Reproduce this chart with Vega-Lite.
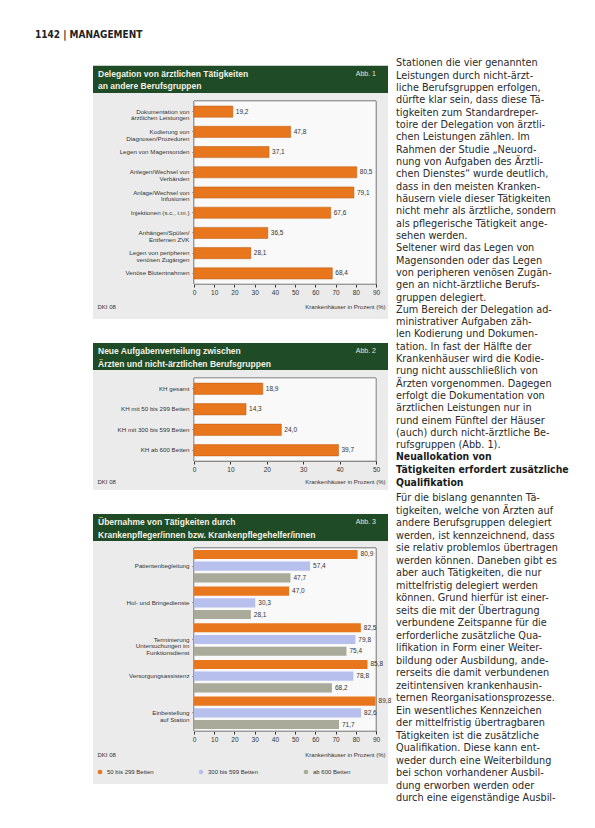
{
  "$schema": "https://vega.github.io/schema/vega-lite/v6.json",
  "background": "#ffffff",
  "padding": {"left": 35, "top": 30, "right": 0, "bottom": 0},
  "title": {"text": "1142 | MANAGEMENT", "anchor": "start", "frame": "bounds", "dx": -58, "offset": 17, "fontSize": 10, "fontWeight": "bold", "font": "DejaVu Sans Condensed", "color": "#222222"},
  "config": {
    "font": "Liberation Sans",
    "locale": {"number": {"decimal": ",", "thousands": ".", "grouping": [3], "currency": ["", " €"]}},
    "axis": {"labelFont": "Liberation Sans", "titleFont": "Liberation Sans", "labelColor": "#333333", "titleColor": "#333333", "grid": false},
    "legend": {"labelFont": "Liberation Sans"},
    "view": {"stroke": null}
  },
  "spacing": 4,
  "hconcat": [
    {
      "spacing": 24,
      "vconcat": [
        {
          "spacing": 0,
          "vconcat": [
            {
              "width": 295, "height": 35,
              "resolve": {"scale": {"x": "independent", "y": "independent"}},
              "layer": [
                {
                  "data": {"values": [{}]},
                  "mark": {"type": "rect", "color": "#1f4b27"},
                  "encoding": {
                    "x": {"datum": 0, "type": "quantitative", "scale": {"domain": [0, 1], "range": [0, 295]}, "axis": null},
                    "x2": {"datum": 1},
                    "y": {"datum": 0, "type": "quantitative", "scale": {"domain": [0, 1], "range": [7.65, 35]}, "axis": null},
                    "y2": {"datum": 1}
                  }
                },
                {
                  "layer": [
                    {
                      "data": {"values": [{"t": "Delegation von ärztlichen Tätigkeiten", "r": 1}, {"t": "an andere Berufsgruppen", "r": 2}]},
                      "mark": {"type": "text", "align": "left", "baseline": "middle", "fontSize": 8.5, "fontWeight": "bold", "color": "#f3f0e2"},
                      "encoding": {
                        "x": {"datum": 0, "type": "quantitative", "scale": {"domain": [0, 1], "range": [5, 283]}, "axis": null},
                        "y": {"field": "r", "type": "ordinal", "scale": {"type": "point", "padding": 0, "range": [15.65, 28.15]}, "axis": null},
                        "text": {"field": "t"}
                      }
                    },
                    {
                      "data": {"values": [{"t": "Abb. 1"}]},
                      "mark": {"type": "text", "align": "right", "baseline": "middle", "fontSize": 7, "color": "#e6e6d6"},
                      "encoding": {
                        "x": {"datum": 1, "type": "quantitative"},
                        "y": {"datum": 1, "type": "ordinal"},
                        "text": {"field": "t"}
                      }
                    }
                  ]
                }
              ]
            },
            {
              "width": 295, "height": 226,
              "view": {"fill": "#ebebeb", "stroke": null},
              "data": {"values": [
                {"k": "Dokumentation von|ärztlichen Leistungen", "v": 19.2},
                {"k": "Kodierung von|Diagnosen/Prozeduren", "v": 47.8},
                {"k": "Legen von Magensonden", "v": 37.1},
                {"k": "Anlegen/Wechsel von|Verbänden", "v": 80.5},
                {"k": "Anlage/Wechsel von|Infusionen", "v": 79.1},
                {"k": "Injektionen (s.c., i.m.)", "v": 67.6},
                {"k": "Anhängen/Spülen/|Entfernen ZVK", "v": 36.5},
                {"k": "Legen von peripheren|venösen Zugängen", "v": 28.1},
                {"k": "Venöse Blutentnahmen", "v": 68.4}
              ]},
              "resolve": {"scale": {"y": "independent"}},
              "layer": [
                {
                  "mark": {"type": "rect", "fill": "#f9f9f9", "stroke": "#9a9a9a", "strokeWidth": 0.8},
                  "encoding": {
                    "x": {"datum": 0, "type": "quantitative", "scale": {"domain": [0, 90], "range": [101, 283], "nice": false},
                      "axis": {"offset": -35, "values": [0, 10, 20, 30, 40, 50, 60, 70, 80, 90], "labelOverlap": false, "labelFlush": false, "labelBound": false, "title": "Krankenhäuser in Prozent (%)", "titleX": 292, "titleY": 22, "titleAlign": "right", "titleAnchor": null, "titleBaseline": "middle", "titleFontSize": 6, "titleFontWeight": "normal", "labelFontSize": 6.5, "labelPadding": 2, "tickSize": 3, "domainColor": "#222222", "tickColor": "#333333"}},
                    "x2": {"datum": 90},
                    "y": {"datum": 0, "type": "quantitative", "scale": {"domain": [0, 1], "range": [8, 191]}, "axis": null},
                    "y2": {"datum": 1}
                  }
                },
                {
                  "encoding": {
                    "x": {"field": "v", "type": "quantitative", "title": "Krankenhäuser in Prozent (%)",
                      "axis": {"offset": -35, "values": [0, 10, 20, 30, 40, 50, 60, 70, 80, 90], "labelOverlap": false, "labelFlush": false, "labelBound": false, "title": "Krankenhäuser in Prozent (%)", "titleX": 292, "titleY": 22, "titleAlign": "right", "titleAnchor": null, "titleBaseline": "middle", "titleFontSize": 6, "titleFontWeight": "normal", "labelFontSize": 6.5, "labelPadding": 2, "tickSize": 3, "domainColor": "#222222", "tickColor": "#333333"}},
                    "y": {"field": "k", "type": "nominal", "sort": null, "scale": {"range": [8, 191], "paddingInner": 0.45, "paddingOuter": 0.25},
                      "axis": {"offset": -101, "title": "DKI 08", "titleAngle": 0, "titleAlign": "left", "titleBaseline": "middle", "titleX": -97, "titleY": 213, "titleFontSize": 6, "titleFontWeight": "normal", "labelFontSize": 6.2, "labelExpr": "split(datum.label, '|')", "labelLineHeight": 6.8, "labelLimit": 96, "labelPadding": 3, "tickSize": 2, "domainColor": "#222222", "tickColor": "#555555"}}
                  },
                  "layer": [
                    {"mark": {"type": "bar", "color": "#e8761c", "stroke": "#b95a10", "strokeWidth": 0.5}},
                    {"mark": {"type": "text", "align": "left", "baseline": "middle", "dx": 3, "fontSize": 6.5, "color": "#333333"},
                     "encoding": {"text": {"field": "v", "type": "quantitative", "format": ".1f"}}}
                  ]
                }
              ]
            }
          ]
        },
        {
          "spacing": 0,
          "vconcat": [
            {
              "width": 295, "height": 27,
              "view": {"fill": "#1f4b27", "stroke": null},
              "layer": [
                {
                  "data": {"values": [{"t": "Neue Aufgabenverteilung zwischen", "r": 1}, {"t": "Ärzten und nicht-ärztlichen Berufsgruppen", "r": 2}]},
                  "mark": {"type": "text", "align": "left", "baseline": "middle", "fontSize": 8.5, "fontWeight": "bold", "color": "#f3f0e2"},
                  "encoding": {
                    "x": {"datum": 0, "type": "quantitative", "scale": {"domain": [0, 1], "range": [5, 283]}, "axis": null},
                    "y": {"field": "r", "type": "ordinal", "scale": {"type": "point", "padding": 0, "range": [8, 20.5]}, "axis": null},
                    "text": {"field": "t"}
                  }
                },
                {
                  "data": {"values": [{"t": "Abb. 2"}]},
                  "mark": {"type": "text", "align": "right", "baseline": "middle", "fontSize": 7, "color": "#e6e6d6"},
                  "encoding": {
                    "x": {"datum": 1, "type": "quantitative"},
                    "y": {"datum": 1, "type": "ordinal"},
                    "text": {"field": "t"}
                  }
                }
              ]
            },
            {
              "width": 295, "height": 120,
              "view": {"fill": "#ebebeb", "stroke": null},
              "data": {"values": [
                {"k": "KH gesamt", "v": 18.9},
                {"k": "KH mit 50 bis 299 Betten", "v": 14.3},
                {"k": "KH mit 300 bis 599 Betten", "v": 24.0},
                {"k": "KH ab 600 Betten", "v": 39.7}
              ]},
              "resolve": {"scale": {"y": "independent"}},
              "layer": [
                {
                  "mark": {"type": "rect", "fill": "#f9f9f9", "stroke": "#9a9a9a", "strokeWidth": 0.8},
                  "encoding": {
                    "x": {"datum": 0, "type": "quantitative", "scale": {"domain": [0, 50], "range": [101, 283], "nice": false},
                      "axis": {"offset": -29, "values": [0, 10, 20, 30, 40, 50], "labelOverlap": false, "labelFlush": false, "labelBound": false, "title": "Krankenhäuser in Prozent (%)", "titleX": 292, "titleY": 20, "titleAlign": "right", "titleAnchor": null, "titleBaseline": "middle", "titleFontSize": 6, "titleFontWeight": "normal", "labelFontSize": 6.5, "labelPadding": 2, "tickSize": 3, "domainColor": "#222222", "tickColor": "#333333"}},
                    "x2": {"datum": 50},
                    "y": {"datum": 0, "type": "quantitative", "scale": {"domain": [0, 1], "range": [8, 91]}, "axis": null},
                    "y2": {"datum": 1}
                  }
                },
                {
                  "encoding": {
                    "x": {"field": "v", "type": "quantitative", "title": "Krankenhäuser in Prozent (%)",
                      "axis": {"offset": -29, "values": [0, 10, 20, 30, 40, 50], "labelOverlap": false, "labelFlush": false, "labelBound": false, "title": "Krankenhäuser in Prozent (%)", "titleX": 292, "titleY": 20, "titleAlign": "right", "titleAnchor": null, "titleBaseline": "middle", "titleFontSize": 6, "titleFontWeight": "normal", "labelFontSize": 6.5, "labelPadding": 2, "tickSize": 3, "domainColor": "#222222", "tickColor": "#333333"}},
                    "y": {"field": "k", "type": "nominal", "sort": null, "scale": {"range": [8, 91], "paddingInner": 0.45, "paddingOuter": 0.25},
                      "axis": {"offset": -101, "title": "DKI 08", "titleAngle": 0, "titleAlign": "left", "titleBaseline": "middle", "titleX": -97, "titleY": 111, "titleFontSize": 6, "titleFontWeight": "normal", "labelFontSize": 6.2, "labelLimit": 96, "labelPadding": 3, "tickSize": 2, "domainColor": "#222222", "tickColor": "#555555"}}
                  },
                  "layer": [
                    {"mark": {"type": "bar", "color": "#e8761c", "stroke": "#b95a10", "strokeWidth": 0.5}},
                    {"mark": {"type": "text", "align": "left", "baseline": "middle", "dx": 3, "fontSize": 6.5, "color": "#333333"},
                     "encoding": {"text": {"field": "v", "type": "quantitative", "format": ".1f"}}}
                  ]
                }
              ]
            }
          ]
        },
        {
          "spacing": 0,
          "vconcat": [
            {
              "width": 295, "height": 27,
              "view": {"fill": "#1f4b27", "stroke": null},
              "layer": [
                {
                  "data": {"values": [{"t": "Übernahme von Tätigkeiten durch", "r": 1}, {"t": "Krankenpfleger/innen bzw. Krankenpflegehelfer/innen", "r": 2}]},
                  "mark": {"type": "text", "align": "left", "baseline": "middle", "fontSize": 8.5, "fontWeight": "bold", "color": "#f3f0e2"},
                  "encoding": {
                    "x": {"datum": 0, "type": "quantitative", "scale": {"domain": [0, 1], "range": [5, 283]}, "axis": null},
                    "y": {"field": "r", "type": "ordinal", "scale": {"type": "point", "padding": 0, "range": [8, 20.5]}, "axis": null},
                    "text": {"field": "t"}
                  }
                },
                {
                  "data": {"values": [{"t": "Abb. 3"}]},
                  "mark": {"type": "text", "align": "right", "baseline": "middle", "fontSize": 7, "color": "#e6e6d6"},
                  "encoding": {
                    "x": {"datum": 1, "type": "quantitative"},
                    "y": {"datum": 1, "type": "ordinal"},
                    "text": {"field": "t"}
                  }
                }
              ]
            },
            {
              "width": 295, "height": 243,
              "view": {"fill": "#ebebeb", "stroke": null},
              "data": {"values": [
                {"k": "Patientenbegleitung", "s": "50 bis 299 Betten", "v": 80.9},
                {"k": "Patientenbegleitung", "s": "300 bis 599 Betten", "v": 57.4},
                {"k": "Patientenbegleitung", "s": "ab 600 Betten", "v": 47.7},
                {"k": "Hol- und Bringedienste", "s": "50 bis 299 Betten", "v": 47.0},
                {"k": "Hol- und Bringedienste", "s": "300 bis 599 Betten", "v": 30.3},
                {"k": "Hol- und Bringedienste", "s": "ab 600 Betten", "v": 28.1},
                {"k": "Terminierung|Untersuchungen im|Funktionsdienst", "s": "50 bis 299 Betten", "v": 82.5},
                {"k": "Terminierung|Untersuchungen im|Funktionsdienst", "s": "300 bis 599 Betten", "v": 79.8},
                {"k": "Terminierung|Untersuchungen im|Funktionsdienst", "s": "ab 600 Betten", "v": 75.4},
                {"k": "Versorgungsassistenz", "s": "50 bis 299 Betten", "v": 85.8},
                {"k": "Versorgungsassistenz", "s": "300 bis 599 Betten", "v": 78.8},
                {"k": "Versorgungsassistenz", "s": "ab 600 Betten", "v": 68.2},
                {"k": "Einbestellung|auf Station", "s": "50 bis 299 Betten", "v": 89.8},
                {"k": "Einbestellung|auf Station", "s": "300 bis 599 Betten", "v": 82.6},
                {"k": "Einbestellung|auf Station", "s": "ab 600 Betten", "v": 71.7}
              ]},
              "resolve": {"scale": {"y": "independent"}},
              "layer": [
                {
                  "mark": {"type": "rect", "fill": "#f9f9f9", "stroke": "#9a9a9a", "strokeWidth": 0.8},
                  "encoding": {
                    "x": {"datum": 0, "type": "quantitative", "scale": {"domain": [0, 90], "range": [101, 283], "nice": false},
                      "axis": {"offset": -53, "values": [0, 10, 20, 30, 40, 50, 60, 70, 80, 90], "labelOverlap": false, "labelFlush": false, "labelBound": false, "title": "Krankenhäuser in Prozent (%)", "titleX": 292, "titleY": 23, "titleAlign": "right", "titleAnchor": null, "titleBaseline": "middle", "titleFontSize": 6, "titleFontWeight": "normal", "labelFontSize": 6.5, "labelPadding": 2, "tickSize": 3, "domainColor": "#222222", "tickColor": "#333333"}},
                    "x2": {"datum": 90},
                    "y": {"datum": 0, "type": "quantitative", "scale": {"domain": [0, 1], "range": [7, 190]}, "axis": null},
                    "y2": {"datum": 1}
                  }
                },
                {
                  "encoding": {
                    "x": {"field": "v", "type": "quantitative", "title": "Krankenhäuser in Prozent (%)",
                      "axis": {"offset": -53, "values": [0, 10, 20, 30, 40, 50, 60, 70, 80, 90], "labelOverlap": false, "labelFlush": false, "labelBound": false, "title": "Krankenhäuser in Prozent (%)", "titleX": 292, "titleY": 23, "titleAlign": "right", "titleAnchor": null, "titleBaseline": "middle", "titleFontSize": 6, "titleFontWeight": "normal", "labelFontSize": 6.5, "labelPadding": 2, "tickSize": 3, "domainColor": "#222222", "tickColor": "#333333"}},
                    "y": {"field": "k", "type": "nominal", "sort": null, "scale": {"range": [7, 190], "paddingInner": 0.05, "paddingOuter": 0.02},
                      "axis": {"offset": -101, "title": "DKI 08", "titleAngle": 0, "titleAlign": "left", "titleBaseline": "middle", "titleX": -97, "titleY": 213, "titleFontSize": 6, "titleFontWeight": "normal", "labelFontSize": 6.2, "labelExpr": "split(datum.label, '|')", "labelLineHeight": 6.8, "labelLimit": 96, "labelPadding": 3, "tickSize": 2, "domainColor": "#222222", "tickColor": "#555555"}},
                    "yOffset": {"field": "s", "type": "nominal", "sort": null, "scale": {"paddingInner": 0.22, "paddingOuter": 0.1}},
                    "color": {"field": "s", "type": "nominal", "sort": null,
                      "scale": {"domain": ["50 bis 299 Betten", "300 bis 599 Betten", "ab 600 Betten"], "range": ["#e8761c", "#b7c0ec", "#a9aa9a"]},
                      "legend": {"title": null, "orient": "none", "legendX": 4, "legendY": 711, "direction": "horizontal", "symbolType": "circle", "symbolSize": 22, "labelFontSize": 6, "labelColor": "#333333", "columnPadding": 44, "symbolStrokeWidth": 0}}
                  },
                  "layer": [
                    {"mark": {"type": "bar", "strokeWidth": 0}},
                    {"mark": {"type": "text", "align": "left", "baseline": "middle", "dx": 3, "fontSize": 6.5, "color": "#333333"},
                     "encoding": {"text": {"field": "v", "type": "quantitative", "format": ".1f"}, "color": {"value": "#333333"}}}
                  ]
                }
              ]
            }
          ]
        }
      ]
    },
    {
      "width": 175, "height": 752,
      "resolve": {"scale": {"y": "independent"}},
      "layer": [
        {
          "data": {"values": [
            {"n": 1, "t": "Stationen die vier genannten"},
            {"n": 2, "t": "Leistungen durch nicht-ärzt-"},
            {"n": 3, "t": "liche Berufsgruppen erfolgen,"},
            {"n": 4, "t": "dürfte klar sein, dass diese Tä-"},
            {"n": 5, "t": "tigkeiten zum Standardreper-"},
            {"n": 6, "t": "toire der Delegation von ärztli-"},
            {"n": 7, "t": "chen Leistungen zählen. Im"},
            {"n": 8, "t": "Rahmen der Studie „Neuord-"},
            {"n": 9, "t": "nung von Aufgaben des Ärztli-"},
            {"n": 10, "t": "chen Dienstes“ wurde deutlich,"},
            {"n": 11, "t": "dass in den meisten Kranken-"},
            {"n": 12, "t": "häusern viele dieser Tätigkeiten"},
            {"n": 13, "t": "nicht mehr als ärztliche, sondern"},
            {"n": 14, "t": "als pflegerische Tätigkeit ange-"},
            {"n": 15, "t": "sehen werden."},
            {"n": 16, "t": "Seltener wird das Legen von"},
            {"n": 17, "t": "Magensonden oder das Legen"},
            {"n": 18, "t": "von peripheren venösen Zugän-"},
            {"n": 19, "t": "gen an nicht-ärztliche Berufs-"},
            {"n": 20, "t": "gruppen delegiert."},
            {"n": 21, "t": "Zum Bereich der Delegation ad-"},
            {"n": 22, "t": "ministrativer Aufgaben zäh-"},
            {"n": 23, "t": "len Kodierung und Dokumen-"},
            {"n": 24, "t": "tation. In fast der Hälfte der"},
            {"n": 25, "t": "Krankenhäuser wird die Kodie-"},
            {"n": 26, "t": "rung nicht ausschließlich von"},
            {"n": 27, "t": "Ärzten vorgenommen. Dagegen"},
            {"n": 28, "t": "erfolgt die Dokumentation von"},
            {"n": 29, "t": "ärztlichen Leistungen nur in"},
            {"n": 30, "t": "rund einem Fünftel der Häuser"},
            {"n": 31, "t": "(auch) durch nicht-ärztliche Be-"},
            {"n": 32, "t": "rufsgruppen (Abb. 1)."}
          ]},
          "mark": {"type": "text", "align": "left", "baseline": "middle", "fontSize": 10.8, "font": "DejaVu Sans Condensed", "color": "#2a2a2a"},
          "encoding": {
            "x": {"datum": 0, "type": "quantitative", "scale": {"domain": [0, 1], "range": [0, 175]}, "axis": null},
            "y": {"field": "n", "type": "quantitative", "scale": {"domain": [1, 32], "range": [5.4, 387.4]}, "axis": null},
            "text": {"field": "t"}
          }
        },
        {
          "data": {"values": [
            {"h": 1, "t": "Neuallokation von"},
            {"h": 2, "t": "Tätigkeiten erfordert zusätzliche"},
            {"h": 3, "t": "Qualifikation"}
          ]},
          "mark": {"type": "text", "align": "left", "baseline": "middle", "fontSize": 10.4, "fontWeight": "bold", "font": "DejaVu Sans Condensed", "color": "#1a1a1a"},
          "encoding": {
            "x": {"datum": 0, "type": "quantitative"},
            "y": {"field": "h", "type": "quantitative", "scale": {"domain": [1, 3], "range": [399, 425]}, "axis": null},
            "text": {"field": "t"}
          }
        },
        {
          "data": {"values": [
            {"m": 1, "t": "Für die bislang genannten Tä-"},
            {"m": 2, "t": "tigkeiten, welche von Ärzten auf"},
            {"m": 3, "t": "andere Berufsgruppen delegiert"},
            {"m": 4, "t": "werden, ist kennzeichnend, dass"},
            {"m": 5, "t": "sie relativ problemlos übertragen"},
            {"m": 6, "t": "werden können. Daneben gibt es"},
            {"m": 7, "t": "aber auch Tätigkeiten, die nur"},
            {"m": 8, "t": "mittelfristig delegiert werden"},
            {"m": 9, "t": "können. Grund hierfür ist einer-"},
            {"m": 10, "t": "seits die mit der Übertragung"},
            {"m": 11, "t": "verbundene Zeitspanne für die"},
            {"m": 12, "t": "erforderliche zusätzliche Qua-"},
            {"m": 13, "t": "lifikation in Form einer Weiter-"},
            {"m": 14, "t": "bildung oder Ausbildung, ande-"},
            {"m": 15, "t": "rerseits die damit verbundenen"},
            {"m": 16, "t": "zeitintensiven krankenhausin-"},
            {"m": 17, "t": "ternen Reorganisationsprozesse."},
            {"m": 18, "t": "Ein wesentliches Kennzeichen"},
            {"m": 19, "t": "der mittelfristig übertragbaren"},
            {"m": 20, "t": "Tätigkeiten ist die zusätzliche"},
            {"m": 21, "t": "Qualifikation. Diese kann ent-"},
            {"m": 22, "t": "weder durch eine Weiterbildung"},
            {"m": 23, "t": "bei schon vorhandener Ausbil-"},
            {"m": 24, "t": "dung erworben werden oder"},
            {"m": 25, "t": "durch eine eigenständige Ausbil-"}
          ]},
          "mark": {"type": "text", "align": "left", "baseline": "middle", "fontSize": 10.8, "font": "DejaVu Sans Condensed", "color": "#2a2a2a"},
          "encoding": {
            "x": {"datum": 0, "type": "quantitative"},
            "y": {"field": "m", "type": "quantitative", "scale": {"domain": [1, 25], "range": [440, 740]}, "axis": null},
            "text": {"field": "t"}
          }
        }
      ]
    }
  ]
}
